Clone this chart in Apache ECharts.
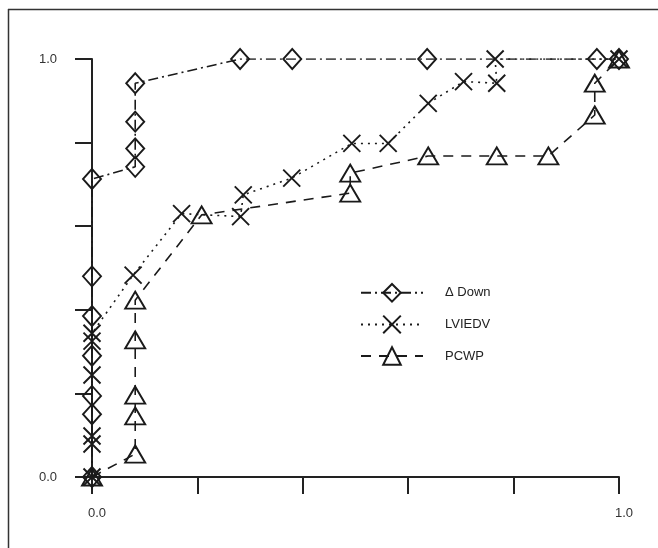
<!DOCTYPE html>
<html><head><meta charset="utf-8">
<script src="https://cdn.jsdelivr.net/npm/echarts@6/dist/echarts.min.js"></script>
<style>html,body{margin:0;padding:0;background:#fff}#c{width:658px;height:548px}</style>
</head><body><div id="c"></div>
<script>
// Tick labels (only the ends are labelled)
const labelledTicks = ['0.0', '1.0'];
const seriesNames = ['Δ Down', 'LVIEDV', 'PCWP'];

// Δ Down (diamonds, dash-dot)
const downX = [0, 0, 0, 0, 0, 0, 0, 0.082, 0.082, 0.082, 0.082, 0.281, 0.380, 0.636, 0.958, 1.0];
const downY = [0, 0.150, 0.194, 0.290, 0.385, 0.480, 0.713, 0.742, 0.786, 0.850, 0.942, 1.0, 1.0, 1.0, 1.0, 1.0];

// LVIEDV (crosses, dotted)
const lviedvX = [0, 0, 0, 0, 0, 0, 0.078, 0.170, 0.282, 0.287, 0.379, 0.493, 0.562, 0.638, 0.705, 0.768, 0.765, 1.0];
const lviedvY = [0, 0.079, 0.098, 0.244, 0.325, 0.344, 0.483, 0.630, 0.623, 0.675, 0.715, 0.798, 0.798, 0.894, 0.946, 0.942, 1.0, 1.0];

// PCWP (triangles, dashed)
const pcwpX = [0, 0.082, 0.082, 0.082, 0.082, 0.082, 0.208, 0.490, 0.490, 0.638, 0.768, 0.866, 0.954, 0.954, 1.0];
const pcwpY = [0, 0.055, 0.146, 0.196, 0.328, 0.423, 0.627, 0.679, 0.727, 0.768, 0.768, 0.768, 0.866, 0.942, 1.0];

const zip = (xs, ys) => xs.map((x, i) => [x, ys[i]]);
const ink = '#1a1a1a';
const font = 'Liberation Sans, Arial, sans-serif';

function mk(name, xs, ys, symbol, size, dash) {
  return {
    name, type: 'line', data: zip(xs, ys), symbol, symbolSize: size,
    showAllSymbol: true, silent: true, animation: false, z: 3,
    lineStyle: { color: ink, width: 1.6, type: dash },
    itemStyle: { color: 'rgba(0,0,0,0)', borderColor: ink, borderWidth: 1.9 },
    emphasis: { disabled: true }
  };
}

const axisCommon = {
  type: 'value', min: 0, max: 1, interval: 0.2,
  splitLine: { show: false },
  axisLine: { show: true, onZero: false, lineStyle: { color: '#222', width: 2 } },
  axisTick: { show: true, length: 17, lineStyle: { color: '#222', width: 2 } }
};

const endLabel = v => (Math.abs(v) < 1e-9 ? labelledTicks[0] : Math.abs(v - 1) < 1e-9 ? labelledTicks[1] : '');

const chart = echarts.init(document.getElementById('c'), null, { renderer: 'canvas' });
chart.setOption({
  backgroundColor: '#fff',
  animation: false,
  grid: { left: 92, right: 39, top: 59, bottom: 71 },
  xAxis: Object.assign({}, axisCommon, {
    axisLabel: { margin: 30, fontSize: 13, color: '#333', fontFamily: font, padding: [0, 0, 0, 10], formatter: endLabel }
  }),
  yAxis: Object.assign({}, axisCommon, {
    axisLabel: { margin: 35, fontSize: 13, color: '#333', fontFamily: font, formatter: endLabel }
  }),
  legend: {
    orient: 'vertical', left: 360, top: 283, padding: 0,
    itemWidth: 62, itemHeight: 22, itemGap: 12,
    textStyle: { fontFamily: font, fontSize: 13, color: '#222', padding: [0, 0, 0, 17] },
    data: seriesNames
  },
  graphic: [
    { type: 'line', shape: { x1: 8, y1: 9.5, x2: 658, y2: 9.5 }, style: { stroke: '#333', lineWidth: 1.5 } },
    { type: 'line', shape: { x1: 8.5, y1: 9, x2: 8.5, y2: 548 }, style: { stroke: '#333', lineWidth: 1.5 } }
  ],
  series: [
    mk(seriesNames[0], downX, downY, 'diamond', [18, 20], [10, 4, 2, 4]),
    mk(seriesNames[1], lviedvX, lviedvY, 'path://M0,0L10,10M0,10L10,0', [17, 17], [2, 5]),
    mk(seriesNames[2], pcwpX, pcwpY, 'triangle', [20, 17], [10, 8])
  ]
});
</script>
</body></html>
